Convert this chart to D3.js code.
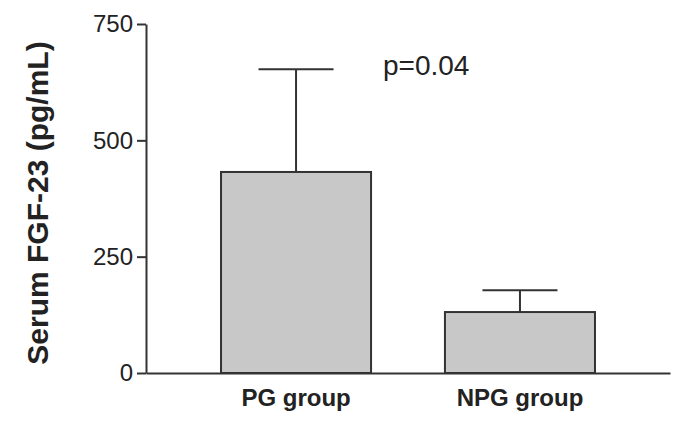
<!DOCTYPE html>
<html lang="en">
<head>
<meta charset="utf-8"/>
<title>Serum FGF-23</title>
<script src="https://d3js.org/d3.v7.min.js"></script>
<style>
  body { margin: 0; background: #fff; }
  svg text { font-family: "Liberation Sans", Arial, sans-serif; fill: #222; }
  .axis .domain, .axis line { stroke: #333; stroke-width: 2px; }
</style>
</head>
<body>
<div id="chart"></div>
<script>
// data
var groups = ["PG group", "NPG group"];
var means = [432, 131];
var errTops = [653, 178];
var yTicks = [0, 250, 500, 750];

var width = 685, height = 433;

var svg = d3.select("#chart").append("svg")
  .attr("width", width)
  .attr("height", height);

var x = d3.scaleBand()
  .domain(groups)
  .range([146, 670])
  .paddingInner(0.33)
  .paddingOuter(0.335);

var y = d3.scaleLinear()
  .domain([0, 750])
  .range([373, 24]);

// error bars (drawn first so bar covers the stem)
var err = svg.append("g").attr("stroke", "#333").attr("stroke-width", 2);
groups.forEach(function(g, i) {
  var cx = x(g) + x.bandwidth() / 2;
  err.append("line")
    .attr("x1", cx).attr("x2", cx)
    .attr("y1", y(means[i])).attr("y2", y(errTops[i]));
  err.append("line")
    .attr("x1", cx - x.bandwidth() / 4).attr("x2", cx + x.bandwidth() / 4)
    .attr("y1", y(errTops[i])).attr("y2", y(errTops[i]));
});

svg.append("g")
  .selectAll("rect")
  .data(groups)
  .enter().append("rect")
    .attr("x", function(d) { return x(d); })
    .attr("y", function(d, i) { return y(means[i]); })
    .attr("width", x.bandwidth())
    .attr("height", function(d, i) { return y(0) - y(means[i]); })
    .attr("fill", "#c8c8c8")
    .attr("stroke", "#333")
    .attr("stroke-width", 2);

// y axis
var yAxis = svg.append("g")
  .attr("class", "axis")
  .attr("transform", "translate(146,0)")
  .call(d3.axisLeft(y).tickValues(yTicks).tickSize(9).tickSizeOuter(0).tickPadding(4));
yAxis.selectAll("text")
  .attr("font-size", 24)
  .attr("fill", "#222")
  .style("font-family", "'Liberation Sans', Arial, sans-serif");

// x axis
var xAxis = svg.append("g")
  .attr("class", "axis")
  .attr("transform", "translate(0," + y(0) + ")")
  .call(d3.axisBottom(x).tickSize(0).tickSizeOuter(0).tickPadding(16));
xAxis.selectAll("text")
  .attr("font-size", 24)
  .attr("font-weight", "bold")
  .attr("fill", "#222")
  .style("font-family", "'Liberation Sans', Arial, sans-serif");

// y label
svg.append("text")
  .attr("transform", "translate(48,203) rotate(-90)")
  .attr("text-anchor", "middle")
  .attr("font-size", 30)
  .attr("font-weight", "bold")
  .text("Serum FGF-23 (pg/mL)");

// p value
svg.append("text")
  .attr("x", 383)
  .attr("y", 75)
  .attr("font-size", 28)
  .text("p=0.04");
</script>
</body>
</html>
